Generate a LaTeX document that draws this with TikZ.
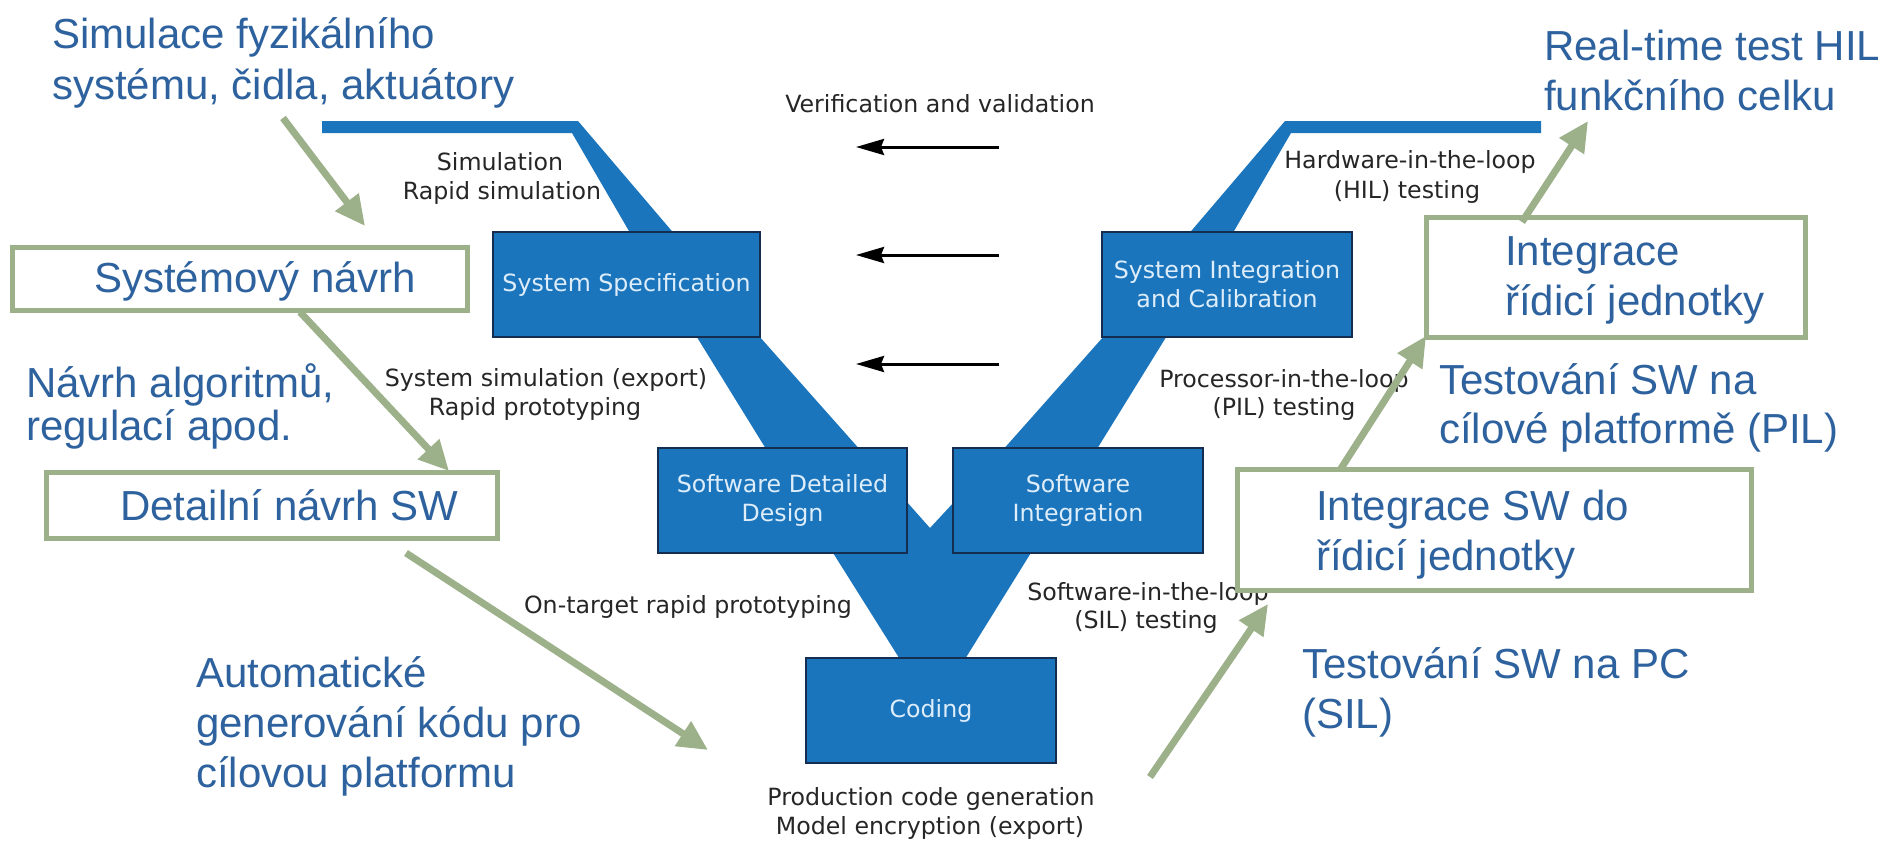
\documentclass[tikz,border=0pt]{standalone}
\usepackage{fontspec}
\setmainfont{Liberation Sans}
\newfontfamily\dvs{DejaVu Sans}
\usetikzlibrary{arrows.meta}
\definecolor{vblue}{RGB}{27,117,188}
\definecolor{vdark}{RGB}{20,45,80}
\definecolor{vtext}{RGB}{222,237,250}
\definecolor{cztext}{RGB}{46,98,158}
\definecolor{ggreen}{RGB}{156,177,138}
\begin{document}
\begin{tikzpicture}[x=1pt,y=-1pt,
  vband/.style={fill=vblue,draw=none},
  vbox/.style={fill=vblue,draw=vdark,line width=2pt,inner sep=0pt,text=vtext,font=\dvs\fontsize{23.7}{29}\selectfont,align=center},
  lbl/.style={inner sep=0pt,anchor=base,font=\dvs\fontsize{23.7}{29}\selectfont,text=black!85},
  cz/.style={inner sep=0pt,anchor=base west,font=\fontsize{42}{50}\selectfont,text=cztext},
  gbox/.style={draw=ggreen,line width=5pt,fill=white,inner sep=0pt},
  garrow/.style={draw=ggreen,line width=7pt,-{Triangle[length=30pt,width=28pt]}},
  karrow/.style={draw=black,line width=3pt,-{Stealth[length=28pt,width=16pt,inset=3pt]}},
]
\useasboundingbox[fill=white] (0,0) rectangle (1887,841);

% V bands
\fill[vband] (322,121) -- (578,121) -- (688,250) -- (640,250) -- (572,133) -- (322,133) -- cycle;
\fill[vband] (1541,121) -- (1285,121) -- (1175,250) -- (1223,250) -- (1291,133) -- (1541,133) -- cycle;
\fill[vband] (674,300) -- (727,300) -- (878,470) -- (779,470) -- cycle;
\fill[vband] (1189,300) -- (1136,300) -- (985,470) -- (1084,470) -- cycle;
\fill[vband] (767,448) -- (859,448) -- (930,528) -- (1004,448) -- (1096,448) -- (952,680) -- (913,680) -- cycle;

% blue boxes
\node[vbox,minimum width=267pt,minimum height=105pt] (sysspec) at (626.5,284.5) {System Specification};
\node[vbox,minimum width=250pt,minimum height=105pt] (sysint) at (1227,284.5) {System Integration\\and Calibration};
\node[vbox,minimum width=249pt,minimum height=105pt] (swdet) at (782.5,500.5) {Software Detailed\\Design};
\node[vbox,minimum width=250pt,minimum height=105pt] (swint) at (1078,500.5) {Software\\Integration};
\node[vbox,minimum width=250pt,minimum height=105pt] (coding) at (931,710.5) {Coding};

% black labels
\node[lbl] (vv) at (940,112) {Verification and validation};
\node[lbl] (sim1) at (500,170) {Simulation};
\node[lbl] (sim2) at (502,199) {Rapid simulation};
\node[lbl] (ss1) at (546,386) {System simulation (export)};
\node[lbl] (ss2) at (535,415) {Rapid prototyping};
\node[lbl] (ot) at (688,613) {On-target rapid prototyping};
\node[lbl] (pc1) at (931,805) {Production code generation};
\node[lbl] (pc2) at (930,834) {Model encryption (export)};
\node[lbl] (hil1) at (1410,168) {Hardware-in-the-loop};
\node[lbl] (hil2) at (1407,198) {(HIL) testing};
\node[lbl] (pil1) at (1284,387) {Processor-in-the-loop};
\node[lbl] (pil2) at (1284,415) {(PIL) testing};
\node[lbl] (sil1) at (1148,600) {Software-in-the-loop};
\node[lbl] (sil2) at (1146,628) {(SIL) testing};

% black arrows
\coordinate (k1s) at (999,147); \coordinate (k1e) at (856,147);
\coordinate (k2s) at (999,255); \coordinate (k2e) at (856,255);
\coordinate (k3s) at (999,364); \coordinate (k3e) at (856,364);
\draw[karrow] (k1s) -- (k1e);
\draw[karrow] (k2s) -- (k2e);
\draw[karrow] (k3s) -- (k3e);

% green boxes
\node[gbox,minimum width=455pt,minimum height=63pt] (gsys) at (239.5,278.5) {};
\node[gbox,minimum width=451pt,minimum height=66pt] (gdet) at (271.5,505) {};
\node[gbox,minimum width=379pt,minimum height=120pt] (gint) at (1615.5,277) {};
\node[gbox,minimum width=514pt,minimum height=121pt] (gintsw) at (1494,529.5) {};

% green arrows
\coordinate (a1s) at (283,118); \coordinate (a1e) at (365,226);
\coordinate (a2s) at (300,312); \coordinate (a2e) at (449,471);
\coordinate (a3s) at (406,553); \coordinate (a3e) at (708,750);
\coordinate (a4s) at (1150,777); \coordinate (a4e) at (1268,604);
\coordinate (a5s) at (1340,470); \coordinate (a5e) at (1426,336);
\coordinate (a6s) at (1522,222); \coordinate (a6e) at (1588,121);
\draw[garrow] (a1s) -- (a1e);
\draw[garrow] (a2s) -- (a2e);
\draw[garrow] (a3s) -- (a3e);
\draw[garrow] (a4s) -- (a4e);
\draw[garrow] (a5s) -- (a5e);
\draw[garrow] (a6s) -- (a6e);

% Czech texts
\node[cz] (t1a) at (52,48) {Simulace fyzikálního};
\node[cz] (t1b) at (52,99) {systému, čidla, aktuátory};
\node[cz] (t2) at (94,292) {Systémový návrh};
\node[cz] (t3a) at (26,397) {Návrh algoritmů,};
\node[cz] (t3b) at (26,440) {regulací apod.};
\node[cz] (t4) at (120,520) {Detailní návrh SW};
\node[cz] (t5a) at (196,687) {Automatické};
\node[cz] (t5b) at (196,737) {generování kódu pro};
\node[cz] (t5c) at (196,787) {cílovou platformu};
\node[cz] (t6a) at (1544,60) {Real-time test HIL};
\node[cz] (t6b) at (1544,110) {funkčního celku};
\node[cz] (t7a) at (1505,265) {Integrace};
\node[cz] (t7b) at (1505,315) {řídicí jednotky};
\node[cz] (t8a) at (1439,394) {Testování SW na};
\node[cz] (t8b) at (1439,443) {cílové platformě (PIL)};
\node[cz] (t9a) at (1316,520) {Integrace SW do};
\node[cz] (t9b) at (1316,570) {řídicí jednotky};
\node[cz] (t10a) at (1302,678) {Testování SW na PC};
\node[cz] (t10b) at (1302,728) {(SIL)};
\end{tikzpicture}
\end{document}
